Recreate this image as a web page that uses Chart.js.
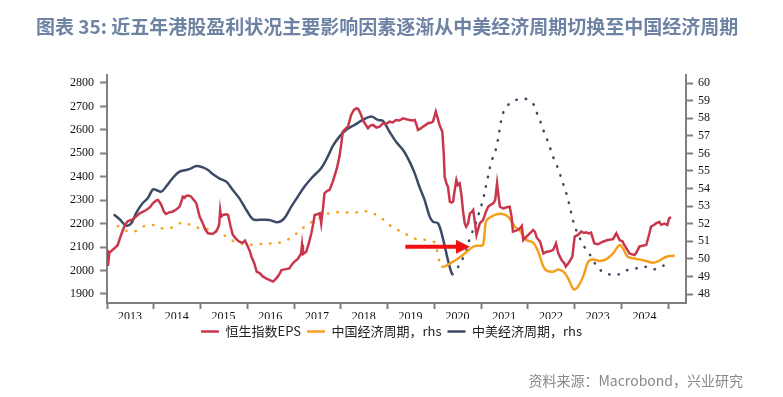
<!DOCTYPE html>
<html>
<head>
<meta charset="utf-8">
<script src="https://cdn.jsdelivr.net/npm/chart.js@4.4.1/dist/chart.umd.min.js"></script>
<style>
  html, body { margin: 0; padding: 0; background: #fff; }
  #wrap { position: relative; width: 783px; height: 397px; }
  #title { position: absolute; left: 36px; top: 12px; font: bold 19px "Noto Sans CJK SC"; color: #6e82a4; white-space: nowrap; }
  #source { position: absolute; right: 40px; top: 370px; font: 14px "Noto Sans CJK SC"; color: #888; white-space: nowrap; }
  canvas { position: absolute; left: 0; top: 0; }
</style>
</head>
<body>
<div id="wrap">
  <canvas id="myChart" width="783" height="397"></canvas>
  <div id="title">图表 35: 近五年港股盈利状况主要影响因素逐渐从中美经济周期切换至中国经济周期</div>
  <div id="source">资料来源：Macrobond，兴业研究</div>
</div>
<script>
"use strict";

// axis ticks
const yearTicks = [2013, 2014, 2015, 2016, 2017, 2018, 2019, 2020, 2021, 2022, 2023, 2024, 2025];
const epsTicks = [1900, 2000, 2100, 2200, 2300, 2400, 2500, 2600, 2700, 2800];
const cycleTicks = [48, 49, 50, 51, 52, 53, 54, 55, 56, 57, 58, 59, 60];

// 恒生指数EPS (lhs)
const epsDates = [2013.00, 2013.02, 2013.05, 2013.10, 2013.16, 2013.23, 2013.28, 2013.34, 2013.40, 2013.45,
  2013.55, 2013.62, 2013.70, 2013.84, 2013.92, 2013.98, 2014.05, 2014.09, 2014.13, 2014.16,
  2014.22, 2014.26, 2014.33, 2014.40, 2014.48, 2014.55, 2014.60, 2014.62, 2014.66, 2014.69,
  2014.75, 2014.80, 2014.86, 2014.91, 2014.95, 2014.98, 2015.05, 2015.10, 2015.16, 2015.26,
  2015.32, 2015.37, 2015.40, 2015.42, 2015.44, 2015.48, 2015.55, 2015.59, 2015.64, 2015.69,
  2015.76, 2015.83, 2015.90, 2015.95, 2015.98, 2016.05, 2016.09, 2016.15, 2016.20, 2016.27,
  2016.33, 2016.40, 2016.47, 2016.55, 2016.60, 2016.65, 2016.70, 2016.73, 2016.80, 2016.90,
  2016.95, 2017.01, 2017.08, 2017.15, 2017.17, 2017.19, 2017.26, 2017.32, 2017.37, 2017.41,
  2017.44, 2017.50, 2017.55, 2017.58, 2017.62, 2017.65, 2017.71, 2017.76, 2017.82, 2017.86,
  2017.92, 2017.97, 2018.01, 2018.04, 2018.10, 2018.15, 2018.19, 2018.22, 2018.28, 2018.33,
  2018.37, 2018.40, 2018.44, 2018.47, 2018.52, 2018.58, 2018.63, 2018.69, 2018.76, 2018.83,
  2018.90, 2018.97, 2019.04, 2019.11, 2019.18, 2019.25, 2019.33, 2019.40, 2019.47, 2019.53,
  2019.58, 2019.62, 2019.65, 2019.70, 2019.76, 2019.81, 2019.86, 2019.92, 2019.97, 2020.03,
  2020.07, 2020.11, 2020.17, 2020.20, 2020.22, 2020.26, 2020.29, 2020.33, 2020.37, 2020.40,
  2020.44, 2020.47, 2020.50, 2020.54, 2020.58, 2020.61, 2020.65, 2020.68, 2020.72, 2020.76,
  2020.80, 2020.83, 2020.87, 2020.90, 2020.94, 2020.97, 2021.04, 2021.10, 2021.15, 2021.20,
  2021.26, 2021.30, 2021.34, 2021.37, 2021.40, 2021.47, 2021.55, 2021.61, 2021.65, 2021.68,
  2021.75, 2021.83, 2021.87, 2021.90, 2021.97, 2022.05, 2022.11, 2022.15, 2022.19, 2022.26,
  2022.33, 2022.40, 2022.47, 2022.54, 2022.60, 2022.65, 2022.72, 2022.78, 2022.81, 2022.88,
  2022.95, 2023.00, 2023.07, 2023.14, 2023.20, 2023.25, 2023.30, 2023.35, 2023.42, 2023.50,
  2023.60, 2023.71, 2023.82, 2023.89, 2023.96, 2024.02, 2024.06, 2024.12, 2024.17, 2024.28,
  2024.33, 2024.38, 2024.45, 2024.53, 2024.60, 2024.63, 2024.70, 2024.74, 2024.81, 2024.85,
  2024.92, 2024.98, 2025.02, 2025.06];
const epsValues = [2088, 2020, 2075, 2085, 2095, 2109, 2140, 2173, 2200, 2211,
  2218, 2230, 2244, 2258, 2270, 2287, 2298, 2301, 2290, 2280,
  2250, 2241, 2248, 2251, 2260, 2272, 2300, 2315, 2310, 2318,
  2320, 2315, 2300, 2287, 2255, 2230, 2201, 2175, 2159, 2156,
  2165, 2180, 2200, 2258, 2230, 2237, 2240, 2237, 2190, 2152,
  2135, 2123, 2118, 2128, 2116, 2085, 2059, 2030, 1995, 1988,
  1975, 1967, 1960, 1953, 1962, 1974, 1990, 2002, 2005, 2009,
  2025, 2038, 2050, 2073, 2110, 2070, 2080, 2120, 2159, 2200,
  2237, 2240, 2244, 2201, 2270, 2329, 2340, 2344, 2375, 2400,
  2440, 2486, 2540, 2592, 2605, 2614, 2640, 2664, 2685, 2692,
  2690, 2678, 2660, 2642, 2625, 2607, 2618, 2621, 2610, 2614,
  2628, 2625, 2635, 2632, 2642, 2640, 2649, 2645, 2642, 2640,
  2642, 2620, 2600, 2605, 2614, 2620, 2628, 2630, 2635, 2678,
  2650, 2621, 2592, 2500, 2400, 2370, 2358, 2294, 2290, 2294,
  2350, 2386, 2365, 2372, 2320, 2258, 2200, 2187, 2201, 2244,
  2250, 2258, 2200, 2152, 2180, 2201, 2215, 2250, 2272, 2280,
  2287, 2300, 2372, 2320, 2272, 2265, 2270, 2272, 2230, 2166,
  2170, 2180, 2190, 2130, 2145, 2160, 2173, 2165, 2140, 2123,
  2073, 2080, 2082, 2088, 2116, 2073, 2045, 2030, 2017, 2035,
  2059, 2145, 2152, 2166, 2160, 2163, 2158, 2162, 2116, 2112,
  2123, 2130, 2134, 2159, 2130, 2125, 2109, 2090, 2073, 2066,
  2080, 2102, 2106, 2109, 2160, 2187, 2195, 2201, 2208, 2195,
  2200, 2194, 2223, 2228];

// 中国经济周期 (rhs), dotted before chinaSolidFrom
const chinaDates = [2013.23, 2013.41, 2013.61, 2013.80, 2014.00, 2014.19, 2014.40, 2014.60, 2014.80, 2015.00,
  2015.20, 2015.40, 2015.59, 2015.78, 2015.98, 2016.18, 2016.37, 2016.62, 2016.79, 2016.97,
  2017.15, 2017.33, 2017.51, 2017.69, 2017.90, 2018.11, 2018.33, 2018.51, 2018.72, 2018.90,
  2019.04, 2019.22, 2019.43, 2019.61, 2019.83, 2020.01, 2020.08, 2020.17, 2020.40, 2020.61,
  2020.83, 2020.97, 2021.04, 2021.11, 2021.22, 2021.36, 2021.50, 2021.61, 2021.72, 2021.83,
  2021.97, 2022.11, 2022.22, 2022.33, 2022.40, 2022.54, 2022.65, 2022.76, 2022.86, 2022.98,
  2023.07, 2023.18, 2023.29, 2023.39, 2023.53, 2023.67, 2023.82, 2023.96, 2024.03, 2024.13,
  2024.24, 2024.38, 2024.53, 2024.67, 2024.81, 2024.96, 2025.12];
const chinaValues = [51.87, 51.60, 51.58, 51.87, 51.92, 51.73, 51.79, 52.06, 51.92, 51.73,
  51.68, 51.51, 51.20, 50.92, 50.84, 50.79, 50.88, 50.88, 51.01, 51.26,
  51.68, 52.02, 52.30, 52.55, 52.64, 52.64, 52.64, 52.72, 52.55, 52.25,
  51.92, 51.64, 51.36, 51.13, 51.07, 50.92, 50.12, 49.55, 49.84, 50.22,
  50.69, 50.75, 50.78, 52.17, 52.40, 52.55, 52.52, 52.30, 51.83, 51.60,
  51.07, 50.92, 50.41, 49.56, 49.33, 49.27, 49.40, 49.27, 48.89, 48.27,
  48.42, 48.99, 49.84, 49.97, 49.88, 49.97, 50.31, 50.79, 50.60, 50.12,
  50.03, 49.97, 49.88, 49.78, 49.90, 50.12, 50.18];
const chinaSolidFrom = 2020.17;

// 中美经济周期 (rhs), dotted from usChinaDottedFrom
const usChinaDates = [2013.16, 2013.27, 2013.41, 2013.52, 2013.62, 2013.76, 2013.87, 2013.98, 2014.05, 2014.16,
  2014.26, 2014.40, 2014.55, 2014.69, 2014.80, 2014.91, 2015.05, 2015.16, 2015.26, 2015.40,
  2015.55, 2015.69, 2015.83, 2015.98, 2016.12, 2016.27, 2016.47, 2016.65, 2016.79, 2016.94,
  2017.08, 2017.22, 2017.40, 2017.58, 2017.72, 2017.83, 2017.97, 2018.11, 2018.29, 2018.47,
  2018.65, 2018.79, 2018.90, 2019.04, 2019.18, 2019.33, 2019.47, 2019.58, 2019.68, 2019.79,
  2019.90, 2019.97, 2020.08, 2020.19, 2020.29, 2020.38, 2020.43, 2020.65, 2020.77, 2020.86,
  2020.93, 2021.04, 2021.13, 2021.22, 2021.32, 2021.40, 2021.47, 2021.61, 2021.79, 2021.96,
  2022.13, 2022.20, 2022.28, 2022.35, 2022.43, 2022.50, 2022.57, 2022.66, 2022.72, 2022.79,
  2022.85, 2022.90, 2022.95, 2023.01, 2023.09, 2023.18, 2023.30, 2023.41, 2023.53, 2023.71,
  2023.90, 2024.08, 2024.27, 2024.47, 2024.67, 2024.86, 2025.02];
const usChinaValues = [52.49, 52.25, 51.89, 52.02, 52.59, 53.16, 53.44, 53.95, 53.92, 53.82,
  54.10, 54.58, 54.96, 55.05, 55.15, 55.28, 55.20, 55.05, 54.82, 54.58,
  54.39, 53.91, 53.44, 52.78, 52.25, 52.22, 52.21, 52.08, 52.30, 52.97,
  53.54, 54.10, 54.67, 55.15, 55.81, 56.42, 56.95, 57.33, 57.61, 57.90,
  58.09, 57.90, 57.85, 57.23, 56.66, 56.19, 55.53, 54.86, 54.10, 53.35,
  52.40, 52.11, 52.02, 51.07, 49.93, 49.14, 49.21, 50.26, 51.26, 51.83,
  52.40, 53.38, 54.48, 55.53, 56.28, 57.42, 58.31, 58.84, 59.07, 59.09,
  58.75, 58.24, 57.71, 57.18, 56.64, 56.11, 55.58, 55.05, 54.52, 53.99,
  53.46, 52.91, 52.34, 51.79, 51.30, 50.79, 50.35, 49.84, 49.40, 49.14,
  49.08, 49.33, 49.42, 49.57, 49.40, 49.55, 49.91];
const usChinaDottedFrom = 2020.38;

// red arrow, on the rhs scale
const arrowDates = [2019.38, 2020.76];
const arrowLevel = 50.69;

const axisGray = "#808080";
const tickFont = { family: "'Liberation Serif', 'DejaVu Serif', serif", size: 12 };
const dots = [0.5, 9];

function toPoints(xs, ys) {
  return xs.map((x, i) => ({ x: x, y: ys[i] }));
}

function fixTicks(list) {
  return function (scale) {
    scale.ticks = list.map((v) => ({ value: v }));
  };
}

const arrowPlugin = {
  id: "arrow",
  afterDatasetsDraw(chart) {
    const xs = chart.scales.x;
    const ys = chart.scales.y2;
    const x0 = xs.getPixelForValue(arrowDates[0]);
    const x1 = xs.getPixelForValue(arrowDates[1]);
    const y = ys.getPixelForValue(arrowLevel);
    const ctx = chart.ctx;
    ctx.save();
    ctx.fillStyle = "#f01010";
    ctx.strokeStyle = "#f01010";
    ctx.lineWidth = 4;
    ctx.beginPath();
    ctx.moveTo(x0, y);
    ctx.lineTo(x1 - 10, y);
    ctx.stroke();
    ctx.beginPath();
    ctx.moveTo(x1, y);
    ctx.lineTo(x1 - 14, y - 7);
    ctx.lineTo(x1 - 14, y + 7);
    ctx.closePath();
    ctx.fill();
    ctx.restore();
  },
};

const data = {
  datasets: [
    {
      label: "恒生指数EPS",
      data: toPoints(epsDates, epsValues),
      yAxisID: "y",
      borderColor: "#c8374d",
      backgroundColor: "#c8374d",
      borderWidth: 2.5,
      pointRadius: 0,
      tension: 0,
    },
    {
      label: "中国经济周期，rhs",
      data: toPoints(chinaDates, chinaValues),
      yAxisID: "y2",
      borderColor: "#f5a01c",
      backgroundColor: "#f5a01c",
      borderWidth: 2.5,
      borderCapStyle: "round",
      pointRadius: 0,
      tension: 0.35,
      segment: {
        borderDash: (ctx) => (ctx.p0.parsed.x < chinaSolidFrom ? dots : undefined),
      },
    },
    {
      label: "中美经济周期，rhs",
      data: toPoints(usChinaDates, usChinaValues),
      yAxisID: "y2",
      borderColor: "#3c4a67",
      backgroundColor: "#3c4a67",
      borderWidth: 2.5,
      borderCapStyle: "round",
      pointRadius: 0,
      tension: 0.35,
      segment: {
        borderDash: (ctx) => (ctx.p0.parsed.x >= usChinaDottedFrom ? dots : undefined),
      },
    },
  ],
};

const config = {
  type: "line",
  data: data,
  plugins: [arrowPlugin],
  options: {
    responsive: false,
    animation: false,
    layout: { padding: { top: 75, bottom: 49, left: 0, right: 0 } },
    plugins: {
      tooltip: { enabled: false },
      legend: {
        position: "bottom",
        labels: {
          usePointStyle: true,
          pointStyle: "line",
          pointStyleWidth: 18,
          padding: 6,
          color: "#222",
          font: { family: "Noto Sans CJK SC", size: 13 },
        },
      },
    },
    scales: {
      x: {
        type: "linear",
        min: 2013,
        max: 2025.38,
        afterBuildTicks: fixTicks(yearTicks),
        afterFit: (s) => { s.height = 16; },
        grid: { drawOnChartArea: false, tickLength: 6, tickWidth: 2, color: axisGray },
        border: { color: axisGray, width: 2 },
        ticks: {
          autoSkip: false,
          maxRotation: 0,
          labelOffset: 23,
          padding: 1,
          color: "#111",
          font: tickFont,
          callback: (v) => (v === 2025 ? "" : String(v)),
        },
      },
      y: {
        position: "left",
        min: 1861.6,
        max: 2834,
        afterBuildTicks: fixTicks(epsTicks),
        afterFit: (s) => { s.width = 107; },
        grid: { drawOnChartArea: false, tickLength: 7, tickWidth: 2, color: axisGray },
        border: { color: axisGray, width: 2 },
        ticks: { padding: 6, color: "#111", font: tickFont, callback: (v) => String(v) },
      },
      y2: {
        position: "right",
        min: 47.49,
        max: 60.455,
        afterBuildTicks: fixTicks(cycleTicks),
        afterFit: (s) => { s.width = 97; },
        grid: { drawOnChartArea: false, tickLength: 7, tickWidth: 2, color: axisGray },
        border: { color: axisGray, width: 2 },
        ticks: { padding: 5, color: "#111", font: tickFont, callback: (v) => String(v) },
      },
    },
  },
};

new Chart(document.getElementById("myChart"), config);
</script>
</body>
</html>
